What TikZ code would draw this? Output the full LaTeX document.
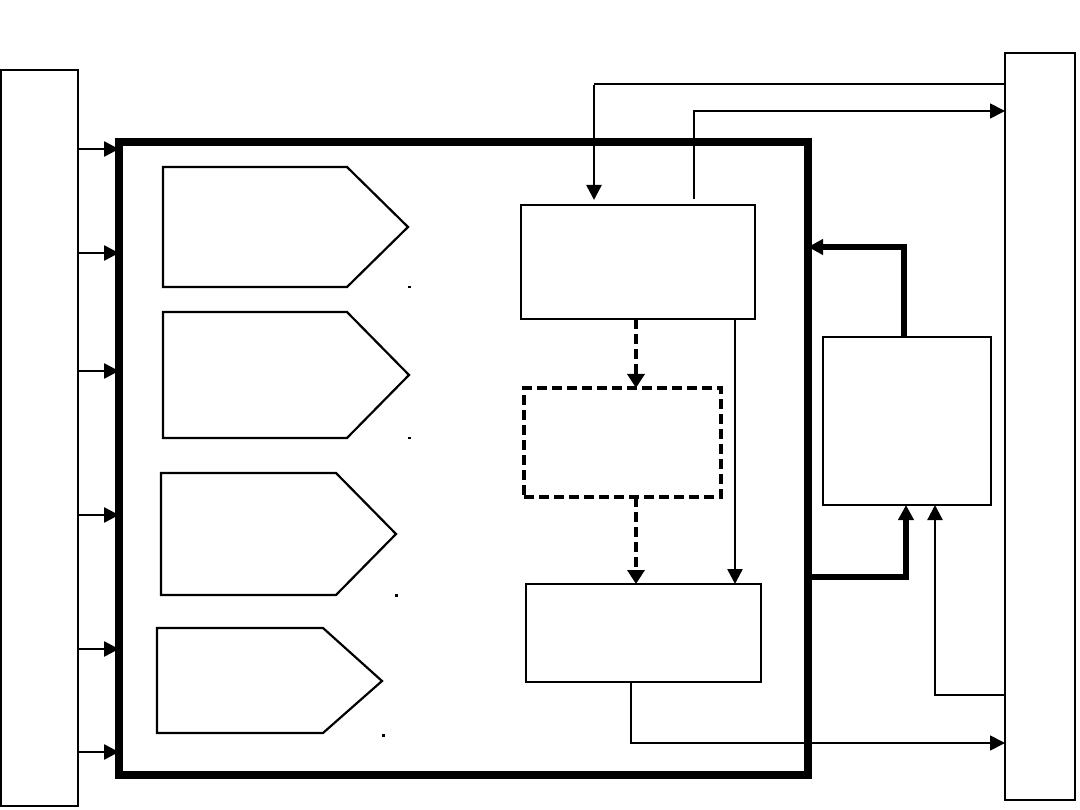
\documentclass[tikz,border=0pt]{standalone}
\usetikzlibrary{arrows.meta}
\tikzset{
  blk/.style={draw, line width=2.2pt, inner sep=0pt, outer sep=0pt},
  dblk/.style={draw, line width=3.4pt, dash pattern=on 10pt off 5pt, inner sep=0pt, outer sep=0pt},
  bigbox/.style={draw, line width=8pt, inner sep=0pt, outer sep=0pt},
  pent/.style={draw, line width=2.2pt, line join=miter},
  tip/.style={-{Triangle[length=15pt,width=15pt]}},
  conn/.style={tip, line width=2.6pt},
  thinconn/.style={tip, line width=1.8pt},
  thickconn/.style={tip, line width=5.5pt},
  dconn/.style={-{Triangle[length=14pt,width=17pt]}, line width=3.4pt, dash pattern=on 10pt off 5pt},
}
\begin{document}
\begin{tikzpicture}[x=1pt,y=-1pt]
\useasboundingbox (0,0) rectangle (1080,810);
% outer columns
\node[blk, line width=2.6pt, minimum width=77pt, minimum height=736pt] (L) at (39.5,438) {};
\node[blk, line width=2.6pt, minimum width=70pt, minimum height=747pt] (R) at (1040,426.5) {};
% main box
\node[bigbox, minimum width=689pt, minimum height=633pt] (M) at (463.5,458.5) {};
% pentagons
\draw[pent] (163,167) -- (347,167) -- (408,227) -- (347,287) -- (163,287) -- cycle;
\draw[pent] (163,312) -- (347,312) -- (409,375) -- (347,438) -- (163,438) -- cycle;
\draw[pent] (161,473) -- (336,473) -- (396,534) -- (336,595) -- (161,595) -- cycle;
\draw[pent] (157,628) -- (323,628) -- (382,681) -- (323,733) -- (157,733) -- cycle;
\fill (408,286) rectangle (410.5,288.5);
\fill (408,437) rectangle (410.5,439.5);
\fill (395,594) rectangle (397.5,596.5);
\fill (382,734) rectangle (384.5,736.5);
% inner boxes
\node[blk, minimum width=234pt, minimum height=114pt] (A) at (638,262) {};
\node[dblk, minimum width=197pt, minimum height=109pt] (B) at (622.5,442.5) {};
\node[blk, minimum width=235pt, minimum height=98pt] (C) at (643.5,633) {};
\node[blk, minimum width=168pt, minimum height=168pt] (D) at (907,421) {};
% left inputs
\foreach \yy in {149,253,371,515,649,752}
  \draw[conn] (L.east |- 0,\yy) -- (M.west |- 0,\yy);
% dashed flow
\draw[dconn] (A.south -| 636,0) -- (B.north -| 636,0);
\draw[dconn] (B.south -| 636,0) -- (C.north -| 636,0);
% solid A -> C
\draw[conn] (A.south -| 735,0) -- (C.north -| 735,0);
% top connectors
\coordinate (t1) at (594,84);
\draw[line width=1.8pt] (R.west |- t1) -- (t1);
\draw[conn] ([yshift=-1pt]t1) -- (594,200);
\coordinate (t2) at (694,111);
\draw[thinconn] (694,199) -- (t2) -- (R.west |- t2);
% D <-> M thick
\draw[thickconn] (D.north -| 904,0) -- (904,247) -- (M.east |- 0,247);
\draw[thickconn] (M.east |- 0,577) -- (906,577) -- (D.south -| 906,0);
% R -> D thin
\draw[thinconn, line width=2.2pt] (R.west |- 0,695) -- (935,695) -- (D.south -| 935,0);
% C -> R bottom
\draw[thinconn] (C.south -| 631,0) -- (631,743) -- (R.west |- 0,743);
\end{tikzpicture}
\end{document}
